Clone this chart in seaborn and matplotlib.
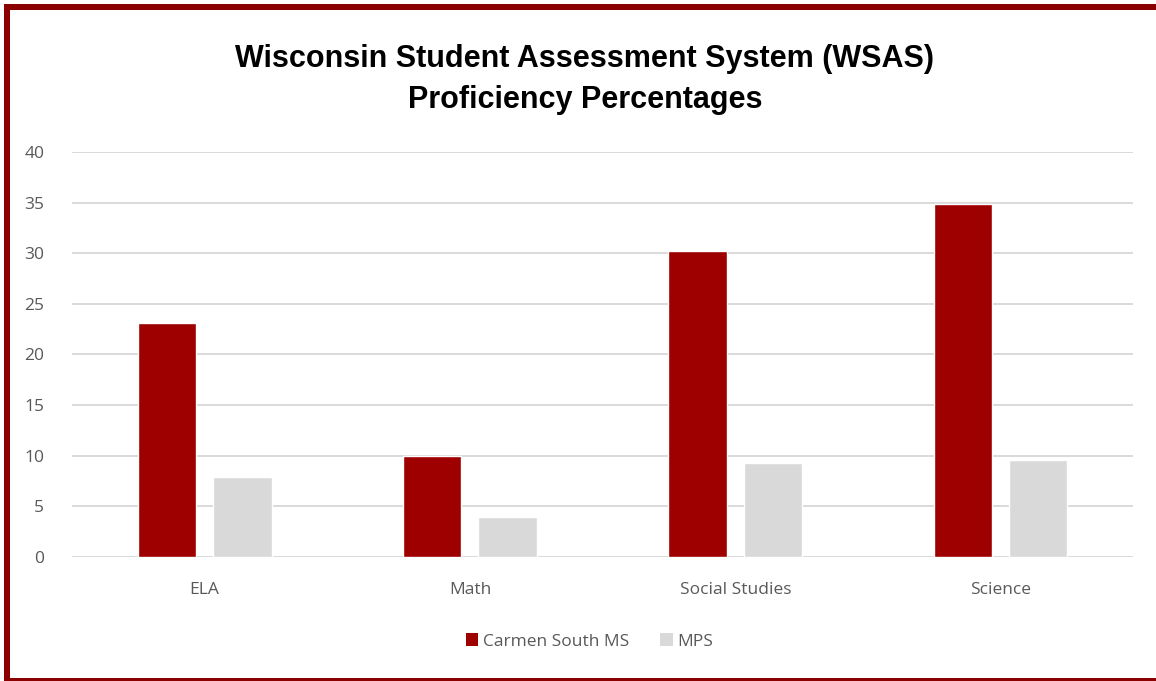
import matplotlib
matplotlib.use("Agg")
import matplotlib.pyplot as plt
import seaborn as sns
import pandas as pd
from matplotlib import font_manager
from matplotlib.patches import Rectangle, Patch

subjects = ["ELA", "Math", "Social Studies", "Science"]
carmen = [23.1, 10.0, 30.2, 34.9]
mps = [7.9, 4.0, 9.3, 9.6]
series_names = ["Carmen South MS", "MPS"]
yticks = [0, 5, 10, 15, 20, 25, 30, 35, 40]
title = "Wisconsin Student Assessment System (WSAS)\nProficiency Percentages"

RED = "#9E0000"
GRAY = "#D9D9D9"
TXT = "#595959"
FRAME = "#8B0000"

df = pd.DataFrame({
    "subject": subjects * 2,
    "value": carmen + mps,
    "school": [series_names[0]] * len(subjects) + [series_names[1]] * len(subjects),
})

sns.set_theme(style="white")
avail = {f.name for f in font_manager.fontManager.ttflist}
body_font = "Open Sans" if "Open Sans" in avail else "DejaVu Sans"
title_font = "Liberation Sans Narrow" if "Liberation Sans Narrow" in avail else "Liberation Sans"
plt.rcParams["font.family"] = [body_font, "DejaVu Sans"]

fig = plt.figure(figsize=(11.56, 6.81), dpi=100)
fig.patch.set_facecolor("white")
ax = fig.add_axes([0.0623, 0.182, 0.918, 0.595])

sns.barplot(data=df, x="subject", y="value", hue="school", order=subjects,
            hue_order=series_names, palette=[RED, GRAY], width=0.568, gap=0.225,
            saturation=1, ax=ax, legend=False, err_kws={"linewidth": 0})

ax.set_ylim(0, 40)
ax.set_xlim(-0.5, len(subjects) - 0.5)
ax.set_yticks(yticks)
ax.set_yticklabels([str(t) for t in yticks])
ax.yaxis.grid(True, color=GRAY, linewidth=1.4)
ax.xaxis.grid(False)
ax.set_axisbelow(True)
for s in ax.spines.values():
    s.set_visible(False)
ax.set_xlabel("")
ax.set_ylabel("")
ax.tick_params(axis="y", length=0, pad=20, labelsize=12.5, labelcolor=TXT)
ax.tick_params(axis="x", length=0, pad=18, labelsize=12.5, labelcolor=TXT)

fig.text(0.506, 0.883, title, ha="center", va="center", fontsize=22,
         fontweight="bold", family=[title_font, "DejaVu Sans"], color="black",
         linespacing=1.5)

handles = [Patch(facecolor=RED, edgecolor="none"), Patch(facecolor=GRAY, edgecolor="none")]
fig.legend(handles, series_names, loc="center", bbox_to_anchor=(0.51, 0.058), ncol=2,
           frameon=False, fontsize=12.5, labelcolor=TXT, handlelength=0.7,
           handleheight=0.7, handletextpad=0.3, columnspacing=1.8)

# frame
W, H = 1156, 681
fig.patches.append(Rectangle((4 / W, 1 - 10 / H), 1 - 4 / W, 6 / H, transform=fig.transFigure,
                             facecolor=FRAME, edgecolor="none"))
fig.patches.append(Rectangle((4 / W, 0), 6 / W, 1 - 4 / H, transform=fig.transFigure,
                             facecolor=FRAME, edgecolor="none"))
fig.patches.append(Rectangle((4 / W, 0), 1 - 4 / W, 3.5 / H, transform=fig.transFigure,
                             facecolor=FRAME, edgecolor="none"))

fig.savefig("out.png", dpi=100, facecolor="white")
